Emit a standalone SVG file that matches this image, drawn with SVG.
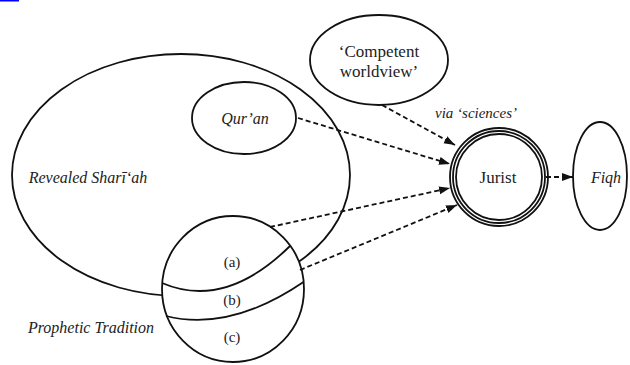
<svg xmlns="http://www.w3.org/2000/svg" width="630" height="365" viewBox="0 0 630 365">
<style>
.sh{fill:#fff;stroke:#111;stroke-width:1.8}
.no{fill:none;stroke:#111;stroke-width:1.8}
.t{font-family:'Liberation Serif','Times New Roman',serif;fill:#222;text-anchor:middle}
.i{font-style:italic}
.d{fill:none;stroke:#111;stroke-width:1.8;stroke-dasharray:5 3;marker-end:url(#ah)}
</style>
<defs>
<marker id="ah" markerUnits="userSpaceOnUse" markerWidth="12" markerHeight="10" refX="11" refY="4" orient="auto">
<path d="M0,0 L11,4 L0,8 Z" fill="#111"/>
</marker>
</defs>
<rect x="0" y="0" width="19" height="1.5" fill="#00f"/>
<g id="revealed-shariah">
<ellipse class="sh" cx="181" cy="175" rx="169" ry="121"/>
<text class="t i" x="88" y="183" font-size="16">Revealed Sharī‘ah</text>
</g>
<g id="quran">
<ellipse class="sh" cx="244" cy="118" rx="52" ry="36"/>
<text class="t i" x="245" y="124" font-size="16">Qur’an</text>
</g>
<g id="prophetic-tradition">
<ellipse class="sh" cx="233" cy="289" rx="71" ry="73"/>
<path class="no" d="M162,283 Q225,310 290,246"/>
<path class="no" d="M166,316 Q230,332 303.5,282"/>
<text class="t" x="232" y="267" font-size="15">(a)</text>
<text class="t" x="232" y="305" font-size="15">(b)</text>
<text class="t" x="232" y="342" font-size="15">(c)</text>
<text class="t i" x="91" y="333" font-size="16">Prophetic Tradition</text>
</g>
<g id="competent-worldview">
<ellipse class="sh" cx="379" cy="60" rx="69" ry="45"/>
<text class="t" x="379" y="57" font-size="17">‘Competent</text>
<text class="t" x="379" y="77" font-size="17">worldview’</text>
</g>
<g id="jurist">
<circle class="sh" cx="499" cy="177" r="49"/>
<circle class="no" cx="499" cy="177" r="46" stroke-width="1.5"/>
<circle class="no" cx="499" cy="177" r="43" stroke-width="1.5"/>
<text class="t" x="498" y="183" font-size="17">Jurist</text>
</g>
<g id="fiqh">
<ellipse class="sh" cx="600" cy="176" rx="27" ry="54"/>
<text class="t i" x="606" y="183" font-size="16">Fiqh</text>
</g>
<g id="connectors">
<path class="d" d="M382,105 L455,145"/>
<path class="d" d="M298,118 L450,164"/>
<path class="d" d="M270,227 L450,188"/>
<path class="d" d="M300,270 L457,205"/>
<path class="d" d="M546,177 L573,177"/>
<text class="t i" x="476" y="118" font-size="15">via ‘sciences’</text>
</g>
</svg>
